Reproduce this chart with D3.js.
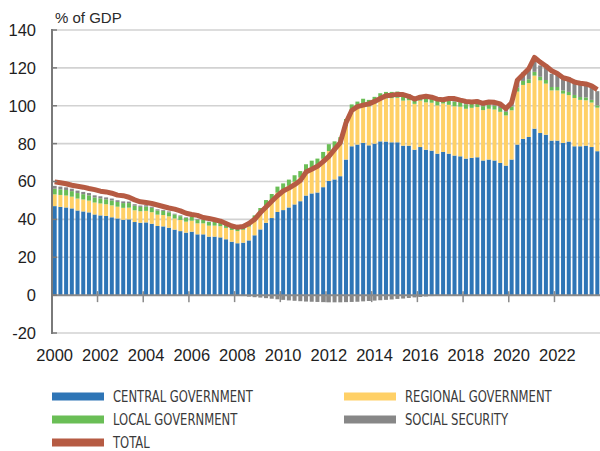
<!DOCTYPE html>
<html>
<head>
<meta charset="utf-8">
<script src="https://cdn.jsdelivr.net/npm/d3@7"></script>
<style>
  body { margin: 0; background: #fff; }
  svg { display: block; font-family: "Liberation Sans", Arial, sans-serif; }
</style>
</head>
<body>
<svg id="chart" width="600" height="451"></svg>
<script>
// quarterly debt by sub-sector, % of GDP, 2000Q1 .. 2023Q4
const central = [
  47.0, 46.6, 46.3, 45.8,  44.7, 44.2, 43.7, 42.6,  42.1, 41.8, 41.1, 40.5,
  39.8, 40.0, 38.6, 38.2,  38.4, 37.7, 36.5, 36.3,  35.6, 34.6, 33.8, 33.0,
  33.5, 32.1, 32.1, 30.9,  30.9, 30.5, 29.5, 28.2,  27.4, 27.7, 28.9, 31.6,
  34.7, 38.2, 40.7, 43.9,  44.9, 46.3, 47.9, 49.6,  52.6, 53.7, 54.2, 57.0,
  60.3, 61.1, 62.8, 71.6,  78.6, 79.5, 80.4, 79.1,  80.0, 81.2, 81.1, 80.7,
  80.7, 78.9, 78.9, 76.8,  78.2, 76.8, 76.3, 74.7,  75.6, 74.7, 73.7, 73.3,
  72.1, 72.5, 72.8, 71.1,  71.6, 71.1, 69.8, 68.4,  71.6, 79.5, 82.5, 83.5,
  87.9, 85.6, 84.7, 81.6,  81.6, 80.4, 81.1, 78.6,  78.6, 78.9, 78.2, 76.0
];
const regional = [
  6.2, 6.3, 6.3, 6.2,  6.3, 6.3, 6.2, 6.3,  6.3, 6.2, 6.3, 6.2,
  6.3, 6.2, 6.2, 6.1,  6.1, 6.1, 6.0, 6.0,  6.0, 5.9, 5.9, 5.8,
  5.8, 5.8, 5.8, 5.8,  5.8, 5.9, 6.0, 6.2,  6.4, 6.8, 7.3, 7.9,
  8.5, 9.0, 9.6, 10.2,  10.8, 11.4, 12.0, 12.5,  13.0, 13.8, 14.3, 15.0,
  15.8, 16.5, 17.0, 17.8,  18.5, 19.2, 19.8, 20.5,  21.2, 22.0, 22.8, 23.3,
  23.5, 23.8, 24.0, 24.2,  24.5, 25.0, 25.3, 25.5,  25.6, 25.8, 26.0, 26.2,
  26.3, 26.4, 26.5, 26.6,  26.8, 26.9, 27.0, 26.5,  26.0, 28.0, 28.5, 28.5,
  28.0, 27.8, 27.0, 26.5,  26.5, 26.0, 24.5, 25.5,  24.5, 24.0, 23.5, 23.0
];
const local = [
  3.0, 3.0, 2.9, 2.9,  2.9, 2.8, 2.8, 2.7,  2.7, 2.6, 2.6, 2.5,
  2.5, 2.4, 2.4, 2.3,  2.3, 2.3, 2.2, 2.2,  2.1, 2.1, 2.0, 2.0,
  2.0, 2.0, 1.9, 1.9,  1.9, 1.9, 1.9, 2.0,  2.1, 2.2, 2.4, 2.6,
  2.8, 3.0, 3.1, 3.2,  3.3, 3.3, 3.4, 3.4,  3.5, 3.5, 3.6, 3.6,
  3.6, 3.6, 3.6, 3.6,  3.6, 3.5, 3.5, 3.5,  3.5, 3.4, 3.4, 3.3,
  3.3, 3.2, 3.1, 3.0,  3.0, 2.9, 2.8, 2.7,  2.7, 2.6, 2.5, 2.4,
  2.4, 2.3, 2.2, 2.1,  2.1, 2.0, 2.0, 1.9,  2.0, 2.1, 2.1, 2.0,
  2.0, 1.9, 1.9, 1.8,  1.8, 1.7, 1.7, 1.6,  1.5, 1.5, 1.4, 1.2
];
const social = [
  1.5, 1.4, 1.4, 1.3,  1.3, 1.2, 1.2, 1.1,  1.1, 1.0, 1.0, 0.9,
  0.9, 0.8, 0.8, 0.7,  0.7, 0.6, 0.6, 0.5,  0.5, 0.4, 0.4, 0.3,
  0.3, 0.3, 0.2, 0.2,  0.2, 0.1, 0.1, 0.0,  -0.3, -0.5, -0.8, -1.1,
  -1.3, -1.6, -1.9, -2.2,  -2.5, -2.8, -3.0, -3.2,  -3.4, -3.5, -3.6, -3.7,
  -3.8, -3.8, -3.8, -3.7,  -3.6, -3.5, -3.3, -3.1,  -2.9, -2.7, -2.5, -2.3,
  -2.0, -1.8, -1.5, -1.2,  -1.0, -0.7, -0.5, -0.2,  0.1, 0.4, 0.7, 1.0,
  1.3, 1.6, 1.8, 2.0,  2.3, 2.5, 2.6, 2.8,  3.2, 4.0, 4.5, 5.0,
  5.3, 6.0, 6.5, 7.0,  7.5, 7.5, 7.8, 8.0,  8.0, 8.0, 7.8, 7.5
];
const total = [
  59.8, 59.3, 58.8, 58.0,  57.5, 57.0, 56.3, 55.7,  54.9, 54.5, 53.8, 52.8,
  52.5, 51.7, 50.3, 49.3,  48.9, 48.4, 47.6, 46.8,  46.0, 45.4, 44.5, 43.2,
  42.6, 42.1, 41.0, 40.5,  39.8, 39.1, 37.8, 36.5,  35.8, 36.2, 37.8, 40.0,
  43.5, 46.5, 49.6, 52.5,  55.0, 56.5, 58.3, 60.5,  65.0, 66.5, 68.0, 70.5,
  73.3, 77.0, 80.5, 91.0,  97.5, 99.5, 100.3, 101.0,  102.3, 103.8, 105.3, 105.6,
  106.0, 105.9, 105.0, 103.5,  104.5, 105.0, 104.5, 103.5,  103.2, 103.8, 103.8, 103.0,
  102.3, 102.0, 102.2, 101.3,  102.0, 101.8, 101.0, 98.5,  101.6, 113.5, 116.5, 119.5,
  125.5, 123.0, 121.0, 118.5,  117.0, 114.8, 114.0, 112.5,  111.9, 111.5, 110.5, 108.5
];

const quarters = [];
for (let yr = 2000; yr <= 2023; yr++) for (let q = 1; q <= 4; q++) quarters.push(`${yr}Q${q}`);

const yTicks = [-20, 0, 20, 40, 60, 80, 100, 120, 140];
const xTickYears = ['2000', '2002', '2004', '2006', '2008', '2010', '2012', '2014', '2016', '2018', '2020', '2022'];

const keys = ['central', 'regional', 'local', 'social'];
const colors = { central: '#2E75B6', regional: '#FFD066', local: '#6ABE56', social: '#878787', total: '#B65B43' };
const legendItems = [
  { key: 'central', label: 'CENTRAL GOVERNMENT' },
  { key: 'regional', label: 'REGIONAL GOVERNMENT' },
  { key: 'local', label: 'LOCAL GOVERNMENT' },
  { key: 'social', label: 'SOCIAL SECURITY' },
  { key: 'total', label: 'TOTAL' }
];

const rows = quarters.map((q, i) => ({
  quarter: q, central: central[i], regional: regional[i], local: local[i], social: social[i], total: total[i]
}));

const svg = d3.select('#chart');
const plotL = 52, plotR = 600, plotT = 30, plotB = 333;

const x = d3.scaleBand().domain(quarters).range([plotL, plotR]).paddingInner(0.3).paddingOuter(0.12);
const y = d3.scaleLinear().domain([-20, 140]).range([plotB, plotT]);

// gridlines
svg.append('g').selectAll('line')
  .data(yTicks.filter(d => d !== 0))
  .join('line')
    .attr('x1', plotL).attr('x2', plotR)
    .attr('y1', d => y(d)).attr('y2', d => y(d))
    .style('stroke', '#d2d2d2').style('stroke-width', 1.6);

// stacked bars
const series = d3.stack().keys(keys).offset(d3.stackOffsetDiverging)(rows);
svg.append('g').selectAll('g')
  .data(series)
  .join('g')
    .attr('fill', d => colors[d.key])
  .selectAll('rect')
  .data(d => d)
  .join('rect')
    .attr('x', d => x(d.data.quarter))
    .attr('width', x.bandwidth())
    .attr('y', d => y(Math.max(d[0], d[1])))
    .attr('height', d => Math.abs(y(d[0]) - y(d[1])));

// zero line and year ticks
svg.append('line')
  .attr('x1', plotL).attr('x2', plotR)
  .attr('y1', y(0)).attr('y2', y(0))
  .style('stroke', '#8a8a8a').style('stroke-width', 2);

const yearStart = yr => x(`${yr}Q1`) - x.step() * x.paddingInner() / 2;
svg.append('g').selectAll('line')
  .data(xTickYears)
  .join('line')
    .attr('x1', d => yearStart(d)).attr('x2', d => yearStart(d))
    .attr('y1', y(0) - 4).attr('y2', y(0) + 7)
    .style('stroke', '#8a8a8a').style('stroke-width', 1.5);

// total line
const line = d3.line()
  .x(d => x(d.quarter) + x.bandwidth() / 2)
  .y(d => y(d.total));
svg.append('path')
  .datum(rows)
  .attr('d', line)
  .style('fill', 'none')
  .style('stroke', colors.total)
  .style('stroke-width', 5)
  .style('stroke-linejoin', 'round');

// left axis
svg.append('line')
  .attr('x1', plotL).attr('x2', plotL)
  .attr('y1', plotT - 1).attr('y2', plotB + 1)
  .style('stroke', '#7a7a7a').style('stroke-width', 2);
svg.append('g').selectAll('line')
  .data(yTicks)
  .join('line')
    .attr('x1', plotL).attr('x2', plotL + 5)
    .attr('y1', d => y(d)).attr('y2', d => y(d))
    .style('stroke', '#7a7a7a').style('stroke-width', 1.5);

svg.append('g').selectAll('text')
  .data(yTicks)
  .join('text')
    .attr('x', 36)
    .attr('y', d => y(d))
    .attr('dy', '0.36em')
    .attr('text-anchor', 'end')
    .style('font-size', '16.5px')
    .style('fill', '#1e1e1e')
    .text(d => d);

svg.append('g').selectAll('text')
  .data(xTickYears)
  .join('text')
    .attr('x', d => x(`${d}Q1`) + x.bandwidth() / 2)
    .attr('y', 361)
    .attr('text-anchor', 'middle')
    .style('font-size', '16.5px')
    .style('fill', '#1e1e1e')
    .text(d => d);

svg.append('text')
  .attr('x', 55).attr('y', 23)
  .style('font-size', '15px')
  .style('fill', '#2a2a2a')
  .text('% of GDP');

// legend
const legendCols = [52, 344];
const legendRows = [396.5, 419.5, 442.5];
const lg = svg.append('g').selectAll('g')
  .data(legendItems)
  .join('g')
    .attr('transform', (d, i) => `translate(${legendCols[i % 2]},${legendRows[Math.floor(i / 2)]})`);
lg.append('rect')
  .attr('x', 0).attr('y', -4)
  .attr('width', 52).attr('height', 8)
  .attr('fill', d => colors[d.key]);
const lt = lg.append('text')
  .attr('dy', '0.36em')
  .style('font-family', '"Liberation Sans Narrow", "DejaVu Sans Condensed", sans-serif')
  .style('font-size', '16px')
  .style('fill', '#3a3a3a')
  .text(d => d.label);
// squeeze legend labels to the condensed face of the original
const natural = lt.filter(d => d.key === 'central').node().getComputedTextLength();
const squeeze = 140 / natural;
lt.attr('transform', `translate(61,0) scale(${squeeze},1)`);
</script>
</body>
</html>
